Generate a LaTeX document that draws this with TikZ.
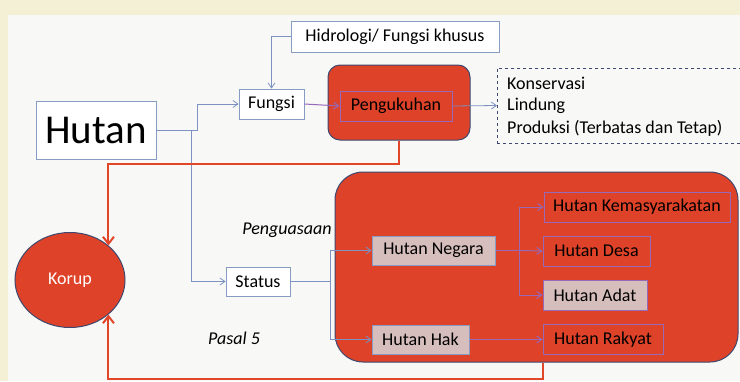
\documentclass[tikz,border=0pt]{standalone}
\usepackage{fontspec}
\setmainfont{Carlito}
\usetikzlibrary{arrows.meta,shapes.geometric}
\definecolor{cream}{RGB}{243,240,214}
\definecolor{paper}{RGB}{248,248,246}
\definecolor{redf}{RGB}{222,66,40}
\definecolor{redl}{RGB}{226,70,40}
\definecolor{darkb}{RGB}{62,72,112}
\definecolor{connb}{RGB}{125,145,195}
\definecolor{connp}{RGB}{150,105,185}
\definecolor{pinkf}{RGB}{214,190,188}
\definecolor{boxb}{RGB}{135,155,195}
\tikzset{
  x=1pt,y=-1pt,
  every node/.style={font=\fontsize{18}{22}\selectfont, inner sep=0pt},
  wbox/.style={draw=boxb, line width=0.8pt, fill=white},
  rbox/.style={draw=connp, line width=1pt, fill=redf},
  pbox/.style={draw=boxb, line width=1pt, fill=pinkf},
  bigr/.style={draw=darkb, line width=1pt, fill=redf},
  conn/.style={draw=connb, line width=0.8pt},
  connin/.style={draw=connp, line width=1pt},
  arr/.style={-{Straight Barb[length=5pt,width=7pt]}},
  redline/.style={draw=redl, line width=2pt, -{Straight Barb[length=7pt,width=11pt,line width=2pt]}},
}
\begin{document}
\begin{tikzpicture}
\useasboundingbox (0,0) rectangle (740,381);
\fill[cream] (0,0) rectangle (740,381);
\fill[paper] (8,15) rectangle (740,381);

% top nodes
\node[wbox, minimum width=120, minimum height=58] (hutan) at (96,130) {\fontsize{41}{46}\selectfont Hutan};
\node[wbox, minimum width=65, minimum height=30] (fungsi) at (271.5,104) {Fungsi};
\node[wbox, minimum width=208, minimum height=31] (hid) at (395,36.5) {Hidrologi/ Fungsi khusus};
\node[bigr, rounded corners=12, minimum width=142, minimum height=75] (pengout) at (399,102.5) {};
\node[rbox, minimum width=112, minimum height=30] (peng) at (396,106) {Pengukuhan};
\node[draw=darkb, dashed, line width=0.8pt, fill=paper, minimum width=250, minimum height=75, anchor=west] (dbox) at (497,105.5) {};
\node[anchor=west] (t1) at (507,83) {Konservasi};
\node[anchor=west] (t2) at (507,105.5) {Lindung};
\node[anchor=west] (t3) at (507,128) {Produksi (Terbatas dan Tetap)};

% korup
\node[ellipse, draw=darkb, line width=1pt, fill=redf, minimum width=110, minimum height=95, text=white] (korup) at (70,280) {Korup};

% status
\node[wbox, minimum width=64, minimum height=29] (status) at (258,281.5) {Status};
\node[font=\fontsize{18}{22}\selectfont\itshape] (pen) at (287,230) {Penguasaan};
\node[font=\fontsize{18}{22}\selectfont\itshape] (pasal) at (234,338) {Pasal 5};

% big red area
\node[bigr, rounded corners=28, minimum width=403, minimum height=190] (big) at (536.5,267) {};
\node[pbox, minimum width=123, minimum height=29] (hn) at (433.5,250.5) {Hutan Negara};
\node[pbox, minimum width=97, minimum height=29] (hh) at (420.5,339.5) {Hutan Hak};
\node[rbox, minimum width=186, minimum height=30] (hk) at (637,207) {Hutan Kemasyarakatan};
\node[rbox, minimum width=107, minimum height=30] (hd) at (596.5,251) {Hutan Desa};
\node[pbox, draw=connp, minimum width=104, minimum height=30] (ha) at (595,295) {Hutan Adat};
\node[rbox, minimum width=120, minimum height=30] (hr) at (603,339.5) {Hutan Rakyat};

% connectors
\coordinate (j1) at (191,130);
\coordinate (j2) at (330,281.5);
\coordinate (j3) at (519,250.5);
\draw[conn,arr] (hid.west) -| (fungsi.north);
\draw[conn,arr] (hutan.east) -- (197,130) |- (fungsi.west);
\draw[conn,arr] (j1) |- (status.west);
\draw[connin,arr] (fungsi.east) -- (peng.west);
\draw[conn,arr] (peng.east) -- (dbox.west);
\draw[conn] (status.east) -- (j2);
\draw[conn,arr] (j2) |- (hn.west);
\draw[conn,arr] (j2) |- (hh.west);
\draw[connin] (hn.east) -- (j3);
\draw[connin,arr] (j3) |- (hk.west);
\draw[connin,arr] (j3) -- (hd.west);
\draw[connin,arr] (j3) |- (ha.west);
\draw[connin,arr] (hh.east) -- (hr.west);

% red feedback lines
\draw[redline] (pengout.south) -- ++(0,23) -| (korup.42.2);
\draw[redline] (big.south -| hr.west) -- ++(0,16) -| (korup.-42.2);
\end{tikzpicture}
\end{document}
